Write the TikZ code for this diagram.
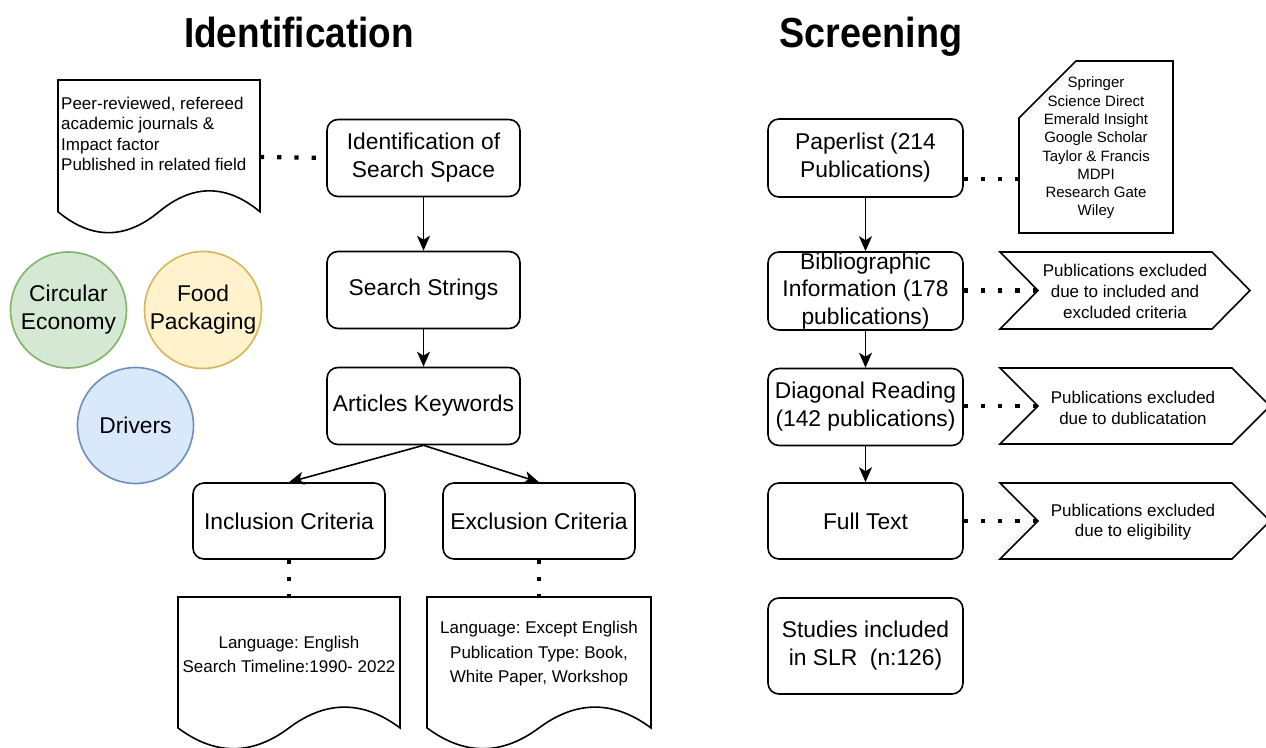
\documentclass[tikz,border=0pt]{standalone}
\usepackage{fontspec}
\setmainfont{Liberation Sans}
\usepackage{graphicx}
\usetikzlibrary{arrows.meta}
\frenchspacing
\definecolor{ceFill}{HTML}{D5E8D4}
\definecolor{ceLine}{HTML}{82B366}
\definecolor{fpFill}{HTML}{FFF2CC}
\definecolor{fpLine}{HTML}{D6B656}
\definecolor{drFill}{HTML}{DAE8FC}
\definecolor{drLine}{HTML}{6C8EBF}
\newcommand\mydocshape[4]{%
 \draw[shp] (#1,#3) -- (#2,#3) -- (#2,{#3+0.85*#4})
 .. controls ({#2-(#2-#1)/6},{#3+0.85*#4-0.18*#4}) and ({(#1+#2)/2+(#2-#1)/6},{#3+0.85*#4-0.18*#4}) .. ({(#1+#2)/2},{#3+0.85*#4})
 .. controls ({(#1+#2)/2-(#2-#1)/6},{#3+0.85*#4+0.18*#4}) and ({#1+(#2-#1)/6},{#3+0.85*#4+0.18*#4}) .. (#1,{#3+0.85*#4}) -- cycle;}
\begin{document}
\frenchspacing
\begin{tikzpicture}[x=1pt,y=-1pt,
 box/.style={draw, line width=1.6pt, rounded corners=11pt, minimum width=193pt, minimum height=77pt, inner sep=0pt, align=center, font=\fontsize{22.8}{28}\selectfont},
 arr/.style={line width=1.6pt, -{Stealth[length=15pt,width=13pt,inset=4pt]}},
 dots/.style={line width=4.2pt, dash pattern=on 4.2pt off 13pt},
 shp/.style={draw, line width=1.6pt, line join=miter, fill=white},
 circ/.style={circle, line width=1.6pt, minimum size=116pt, inner sep=0pt, align=center, font=\fontsize{22.8}{28}\selectfont},
 smalltext/.style={font=\fontsize{17}{21}\selectfont, align=center, inner sep=0pt},
 title/.style={font=\fontsize{42}{48}\bfseries\selectfont, inner sep=0pt, anchor=base},
]
\useasboundingbox[fill=white] (0,0) rectangle (1266,747);

% titles
\node[title] (t1) at (299,47) {\scalebox{0.88}[1]{Identification}};
\node[title] (t2) at (871,47) {\scalebox{0.9}[1]{Screening}};

% top-left document
\mydocshape{58}{260}{80}{155}
\node[anchor=west, align=left, inner sep=0pt, font=\fontsize{17}{20.5}\selectfont] (docA) at (61,134)
 {Peer-reviewed, refereed\\academic journals \&\\Impact factor\\Published in related field};
\coordinate (docAr) at (260,157);

% left flow
\node[box] (iss) at (423.5,158) {Identification of\\Search Space};
\node[box] (ss) at (423.5,290) {Search Strings};
\node[box] (ak) at (423.5,406) {Articles Keywords};
\node[box, minimum width=192pt, minimum height=76pt] (ic) at (289,521) {Inclusion Criteria};
\node[box, minimum width=192pt, minimum height=76pt] (ec) at (539,521) {Exclusion Criteria};

% circles
\node[circ, draw=ceLine, fill=ceFill] (ce) at (68.5,310) {Circular\\Economy};
\node[circ, draw=fpLine, fill=fpFill] (fp) at (203,310) {Food\\Packaging};
\node[circ, draw=drLine, fill=drFill] (dv) at (135.5,425.5) {Drivers};

% bottom documents
\mydocshape{178}{400}{597}{154}
\mydocshape{427}{651}{597}{154}
\node[smalltext, font=\fontsize{17}{24}\selectfont] (docB) at (289,654) {Language: English\\Search Timeline:1990- 2022};
\node[smalltext, font=\fontsize{17}{24.5}\selectfont] (docC) at (539,654) {Language: Except English\\Publication Type: Book,\\White Paper, Workshop};
\coordinate (docBtop) at (289,597);
\coordinate (docCtop) at (539,597);

% left connectors
\draw[dots] (docAr) -- (iss.west);
\draw[arr] (iss) -- (ss);
\draw[arr] (ss) -- (ak);
\draw[arr] (ak.south) -- (ic.north);
\draw[arr] (ak.south) -- (ec.north);
\draw[dots] (ic.south) -- (docBtop);
\draw[dots] (ec.south) -- (docCtop);

% right flow
\node[box, minimum width=195pt, minimum height=78pt] (pl) at (865.5,158) {Paperlist (214\\Publications)};
\node[box, minimum width=195pt, minimum height=78pt, font=\fontsize{22.8}{27.5}\selectfont] (bi) at (865.5,291) {Bibliographic\\Information (178\\publications)};
\node[box, minimum width=195pt, minimum height=77pt] (dr) at (865.5,407) {Diagonal Reading\\(142 publications)};
\node[box, minimum width=195pt, minimum height=76pt] (ft) at (865.5,521) {Full Text};
\node[box, minimum width=195pt, minimum height=96pt] (st) at (865.5,646) {Studies included\\in SLR\ \ (n:126)};

% card
\draw[shp] (1019,118) -- (1076,61) -- (1173,61) -- (1173,233) -- (1019,233) -- cycle;
\node[align=center, inner sep=0pt, font=\fontsize{15}{18.3}\selectfont] (card) at (1096,148)
 {Springer\\Science Direct\\Emerald Insight\\Google Scholar\\Taylor \& Francis\\MDPI\\Research Gate\\Wiley};
\coordinate (cardl) at (1019,179);

% chevrons
\draw[shp] (1000,252) -- (1212,252) -- (1250,290.5) -- (1212,329) -- (1000,329) -- (1038,290.5) -- cycle;
\draw[shp] (1000,368) -- (1232,368) -- (1270,406) -- (1232,444) -- (1000,444) -- (1038,406) -- cycle;
\draw[shp] (1000,483) -- (1232,483) -- (1270,521) -- (1232,559) -- (1000,559) -- (1038,521) -- cycle;
\node[smalltext] (ch1t) at (1125,291) {Publications excluded\\due to included and\\excluded criteria};
\node[smalltext, font=\fontsize{17}{20.5}\selectfont] (ch2t) at (1133,408) {Publications excluded\\due to dublicatation};
\node[smalltext, font=\fontsize{17}{20.5}\selectfont] (ch3t) at (1133,522) {Publications excluded\\due to eligibility};
\coordinate (ch1) at (1038,290.5);
\coordinate (ch2) at (1038,406);
\coordinate (ch3) at (1038,521);

% right connectors
\draw[arr] (pl) -- (bi);
\draw[arr] (bi) -- (dr);
\draw[arr] (dr) -- (ft);
\draw[dots] (pl.east |- cardl) -- (cardl);
\draw[dots] (bi.east |- ch1) -- (ch1);
\draw[dots] (dr.east |- ch2) -- (ch2);
\draw[dots] (ft.east |- ch3) -- (ch3);
\end{tikzpicture}
\end{document}
